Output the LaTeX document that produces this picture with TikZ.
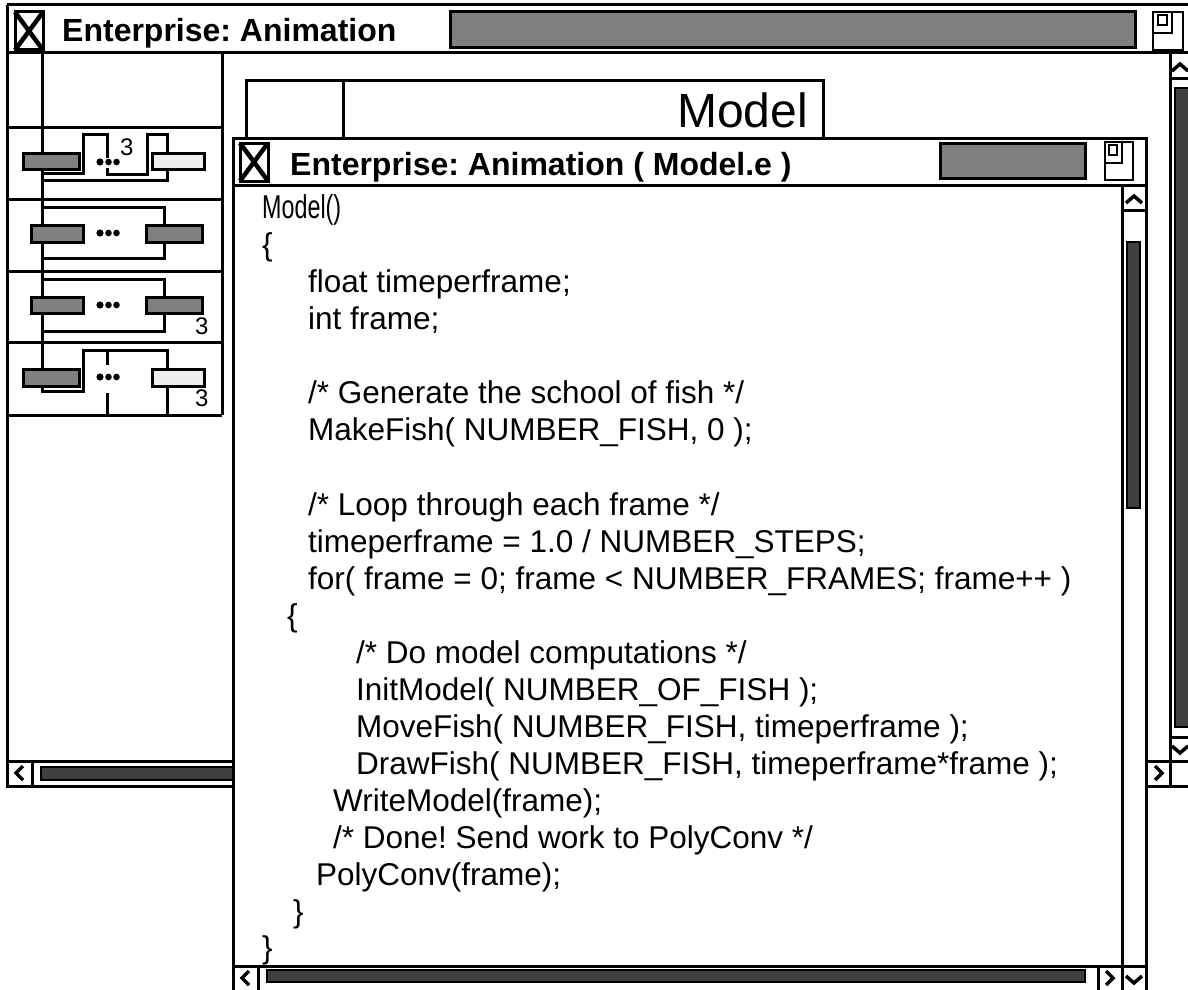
\documentclass[tikz,border=0pt]{standalone}
\usepackage{fontspec}
\setmainfont{Liberation Sans}
\frenchspacing
\definecolor{mygray}{RGB}{128,128,128}
\definecolor{mydark}{RGB}{64,64,64}
\definecolor{mylight}{RGB}{238,238,238}
\tikzset{
  ln/.style={line width=3pt},
  bar/.style={draw, line width=3pt, fill=mygray},
  thumb/.style={draw, line width=2.5pt, fill=mydark},
  pbox/.style={draw, line width=3pt, fill=mygray},
  lbox/.style={draw, line width=3pt, fill=mylight},
  chev/.style={line width=3.5pt, line join=miter},
  code/.style={anchor=base west, inner sep=0pt, font=\fontsize{31.5}{37}\selectfont},
  wtitle/.style={anchor=base west, inner sep=0pt, font=\fontsize{32}{38}\selectfont\bfseries},
  num/.style={anchor=base west, inner sep=0pt, font=\fontsize{24}{28}\selectfont},
}
\begin{document}
\begin{tikzpicture}[x=1pt,y=-1pt]
\useasboundingbox (0,0) rectangle (1188,990);
\clip (0,0) rectangle (1188,990);
\fill[white] (0,0) rectangle (1188,990);
% ---------------- outer window
\draw[ln] (7,5) -- (1190,5);
\draw[ln] (7,5) -- (7,786) -- (1190,786);
\draw[ln] (7,53) -- (1190,53);
% close icon
\draw[line width=3pt] (15,12) rectangle (43,50);
\draw[line width=4.5pt] (15,12) -- (43,50) (43,12) -- (15,50);
\node[wtitle] (otitle) at (62,42) {Enterprise: Animation};
\draw[bar] (450,12) rectangle (1135,48);
% resize icon
\draw[line width=2pt] (1153,12) rectangle (1183,50);
\draw[line width=2pt] (1153,12) rectangle (1172,33);
\draw[line width=2pt] (1158,15) rectangle (1167,25);
% outer vertical scrollbar
\draw[ln] (1170,53) -- (1170,786);
\draw[ln] (1170,78) -- (1190,78);
\draw[chev] (1172,71) -- (1180,64) -- (1188,71);
\draw[thumb] (1175,88) rectangle (1195,727);
\draw[ln] (1170,737) -- (1190,737);
\draw[chev] (1172,746) -- (1180,753) -- (1188,746);
\draw[ln] (1146,761) -- (1190,761);
\draw[chev] (1155,766) -- (1162,773) -- (1155,780);
% outer horizontal scrollbar
\draw[ln] (7,761) -- (240,761);
\draw[ln] (32,761) -- (32,786);
\draw[chev] (23,766) -- (16,773) -- (23,780);
\draw[thumb] (41,767) rectangle (245,780);
% ---------------- left panel
\draw[ln] (7,127) -- (222,127) (7,199) -- (222,199) (7,271) -- (222,271)
          (7,342) -- (222,342) (7,415) -- (222,415);
\draw[ln] (222,53) -- (222,415);
% wiring
\draw[ln] (42,53) -- (42,391) -- (83,391) -- (83,350) -- (167,350) -- (167,415);
\draw[ln] (107,350) -- (107,365) (107,393) -- (107,415);
\draw[ln] (42,173) -- (83,173) -- (83,134) -- (107,134) -- (107,158);
\draw[ln] (107,168) -- (107,174) -- (147,174) -- (147,134) -- (167,134) -- (167,180) -- (42,180);
\draw[ln] (42,207) -- (164,207) -- (164,258) -- (42,258);
\draw[ln] (42,279) -- (164,279) -- (164,331) -- (42,331);
% panel 1
\draw[pbox] (23,153) rectangle (79,169);
\draw[lbox] (152,153) rectangle (204,169);
% panel 2
\draw[pbox] (31,225) rectangle (83,242);
\draw[pbox] (146,225) rectangle (202,242);
% panel 3
\draw[pbox] (31,297) rectangle (83,313);
\draw[pbox] (146,297) rectangle (202,313);
% panel 4
\draw[pbox] (23,369) rectangle (79,386);
\draw[lbox] (152,369) rectangle (204,386);
% dots
\foreach \yy in {162,233,305,377}{
  \fill (100,\yy) circle (3.6) (108.5,\yy) circle (3.3) (116.5,\yy) circle (3.3);
}
\node[num] (n1) at (120,155) {3};
\node[num] (n2) at (195,334) {3};
\node[num] (n3) at (195,406) {3};
% ---------------- Model box
\draw[ln] (246,160) -- (246,80) -- (823,80) -- (823,160);
\draw[ln] (343,80) -- (343,160);
\node[anchor=base east, inner sep=0pt, font=\fontsize{48}{56}\selectfont] (model) at (808,127) {Model};
% ---------------- inner window
\fill[white] (233,138) rectangle (1146,995);
\draw[ln] (233,995) -- (233,138) -- (1146,138) -- (1146,995);
\draw[ln] (233,185) -- (1146,185);
\draw[line width=3pt] (240,143) rectangle (268,181);
\draw[line width=4.5pt] (240,143) -- (268,181) (268,143) -- (240,181);
\node[wtitle] (ititle) at (290,175) {Enterprise: Animation ( Model.e )};
\draw[bar] (940,143) rectangle (1085,178);
\draw[line width=2pt] (1105,142) rectangle (1133,180);
\draw[line width=2pt] (1105,142) rectangle (1122,163);
\draw[line width=2pt] (1109,145) rectangle (1117,155);
% inner vertical scrollbar
\draw[ln] (1122,185) -- (1122,995);
\draw[ln] (1122,210) -- (1146,210);
\draw[chev] (1126,203) -- (1134,196) -- (1142,203);
\draw[thumb] (1127,242) rectangle (1140,508);
% inner horizontal scrollbar
\draw[ln] (233,966) -- (1146,966);
\draw[ln] (258,966) -- (258,995);
\draw[chev] (249,971) -- (242,978) -- (249,985);
\draw[thumb] (267,970) rectangle (1085,982);
\draw[ln] (1098,966) -- (1098,995);
\draw[chev] (1106,971) -- (1113,978) -- (1106,985);
\draw[chev] (1126,976) -- (1134,983) -- (1142,976);
% code
\node[code, anchor=base west] (c0) at (262,218) {\scalebox{0.74}[1.05]{Model()}};
\node[code] (c1)  at (262,255) {\{};
\node[code] (c2)  at (308,292) {float timeperframe;};
\node[code] (c3)  at (308,329) {int frame;};
\node[code] (c5)  at (308,403) {/* Generate the school of fish */};
\node[code] (c6)  at (308,440) {MakeFish( NUMBER\_FISH, 0 );};
\node[code] (c8)  at (308,515) {/* Loop through each frame */};
\node[code] (c9)  at (308,552) {timeperframe = 1.0 / NUMBER\_STEPS;};
\node[code] (c10) at (308,589) {for( frame = 0; frame < NUMBER\_FRAMES; frame++ )};
\node[code] (c11) at (287,626) {\{};
\node[code] (c12) at (356,663) {/* Do model computations */};
\node[code] (c13) at (356,700) {InitModel( NUMBER\_OF\_FISH );};
\node[code] (c14) at (356,737) {MoveFish( NUMBER\_FISH, timeperframe );};
\node[code] (c15) at (356,774) {DrawFish( NUMBER\_FISH, timeperframe*frame );};
\node[code] (c16) at (333,811) {WriteModel(frame);};
\node[code] (c17) at (333,848) {/* Done! Send work to PolyConv */};
\node[code] (c18) at (316,885) {PolyConv(frame);};
\node[code] (c19) at (293,922) {\}};
\node[code] (c20) at (262,958) {\}};
\end{tikzpicture}
\end{document}
